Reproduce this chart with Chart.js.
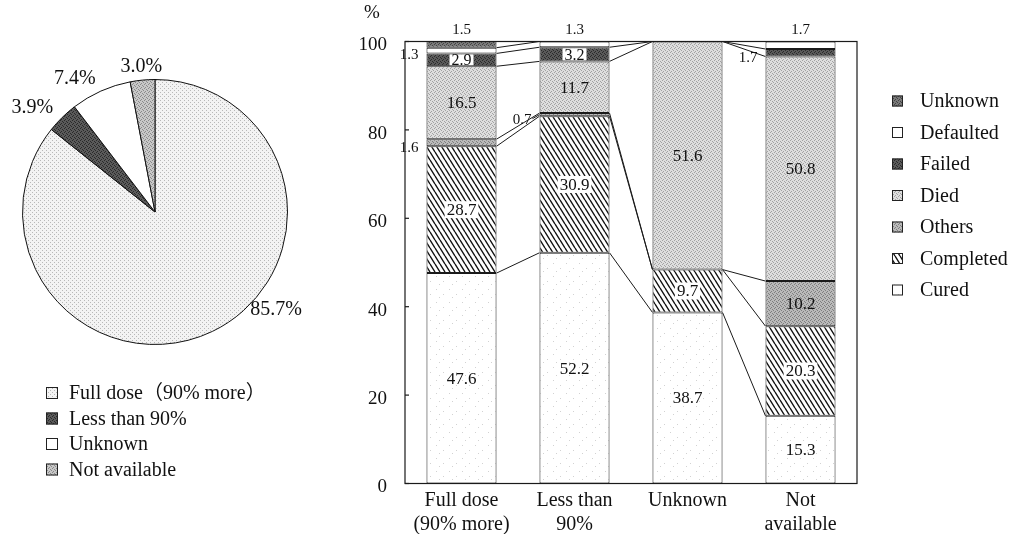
<!DOCTYPE html>
<html>
<head>
<meta charset="utf-8">
<script src="https://cdn.jsdelivr.net/npm/chart.js@4.4.0/dist/chart.umd.min.js"></script>
<style>
html, body { margin: 0; padding: 0; background: #fff; }
#wrap { position: relative; width: 1013px; height: 534px; overflow: hidden; }
#pieBox { position: absolute; left: 0; top: 0; width: 340px; height: 534px; }
#barBox { position: absolute; left: 330px; top: 0; width: 683px; height: 534px; }
</style>
</head>
<body>
<div id="wrap">
  <div id="pieBox"><canvas id="pie"></canvas></div>
  <div id="barBox"><canvas id="bars"></canvas></div>
</div>
<script>
// pie: dose taken
var pieLabels = ['Full dose\uFF0890% more\uFF09', 'Less than 90%', 'Unknown', 'Not available'];
var pieValues = [85.7, 3.9, 7.4, 3.0];

// bars: treatment outcome by dose group
var categories = [['Full dose', '(90% more)'], ['Less than', '90%'], 'Unknown', ['Not', 'available']];
var cured = [47.6, 52.2, 38.7, 15.3];
var completed = [28.7, 30.9, 9.7, 20.3];
var others = [1.6, 0.7, 0, 10.2];
var died = [16.5, 11.7, 51.6, 50.8];
var failed = [2.9, 3.2, 0, 1.7];
var defaulted = [1.3, 1.3, 0, 1.7];
var unknownOutcome = [1.5, 0, 0, 0];
var yTicks = [0, 20, 40, 60, 80, 100];

var serif = "'Liberation Serif', 'Noto Sans CJK JP', serif";
Chart.defaults.font.family = serif;
Chart.defaults.color = '#111';

// screentone-like fills
function tone(base, dot, cells, w, h) {
  var c = document.createElement('canvas');
  c.width = w || 4; c.height = h || 4;
  var g = c.getContext('2d');
  g.fillStyle = base; g.fillRect(0, 0, c.width, c.height);
  g.fillStyle = dot;
  cells.forEach(function (p) { g.fillRect(p[0], p[1], 1, 1); });
  return g.createPattern(c, 'repeat');
}
function hatch() {
  var c = document.createElement('canvas');
  c.width = 5; c.height = 8;
  var g = c.getContext('2d');
  g.fillStyle = '#fff'; g.fillRect(0, 0, 5, 8);
  g.strokeStyle = '#111'; g.lineWidth = 1.4;
  g.beginPath();
  [-5, 0, 5].forEach(function (o) { g.moveTo(o, 0); g.lineTo(o + 5, 8); });
  g.stroke();
  return g.createPattern(c, 'repeat');
}
var fourDots = [[0, 0], [2, 1], [1, 3], [3, 2]];
var fillCured = tone('#ffffff', '#d2d2d2', [[2, 3], [9, 8], [5, 11]], 13, 13);
var fillCompleted = hatch();
var fillOthers = tone('#bababa', '#7e7e7e', fourDots);
var fillDied = tone('#dedede', '#a2a2a2', fourDots);
var fillFailed = tone('#5a5a5a', '#2a2a2a', fourDots);
var fillDefaulted = '#ffffff';
var fillUnknown = tone('#7a7a7a', '#444444', fourDots);

var pieFills = [
  tone('#f3f3f3', '#b8b8b8', [[0, 0], [2, 2]]),
  tone('#5a5a5a', '#2a2a2a', fourDots),
  '#ffffff',
  tone('#c8c8c8', '#8a8a8a', fourDots)
];

// ---------- pie ----------
var pieText = {
  id: 'pieText',
  afterDatasetsDraw: function (chart) {
    var ctx = chart.ctx;
    var meta = chart.getDatasetMeta(0);
    ctx.save();
    ctx.font = '20px ' + serif;
    ctx.fillStyle = '#111';
    ctx.textBaseline = 'middle';
    meta.data.forEach(function (arc, i) {
      var p = arc.getProps(['x', 'y', 'startAngle', 'endAngle', 'outerRadius'], true);
      // the big slice carries its label low on the right rim, like the source
      var a = i === 0 ? p.startAngle + (p.endAngle - p.startAngle) * 0.44 : (p.startAngle + p.endAngle) / 2;
      var r = p.outerRadius + (i === 0 ? 4 : 13);
      var cx = Math.cos(a), sy = Math.sin(a);
      ctx.textAlign = cx > 0.3 ? 'left' : (cx < -0.3 ? 'right' : 'center');
      ctx.fillText(pieValues[i].toFixed(1) + '%', p.x + cx * r, p.y + sy * r);
    });
    ctx.restore();
  }
};
var pieLegend = {
  id: 'pieLegend',
  afterDraw: function (chart) {
    var ctx = chart.ctx, area = chart.chartArea;
    var fills = chart.data.datasets[0].backgroundColor;
    ctx.save();
    ctx.font = '20px ' + serif;
    ctx.textBaseline = 'middle';
    ctx.textAlign = 'left';
    ctx.strokeStyle = '#222';
    ctx.lineWidth = 1;
    chart.data.labels.forEach(function (t, i) {
      var y = area.bottom + 48 + i * 25.5;
      ctx.fillStyle = fills[i];
      ctx.fillRect(area.left + 24, y - 6, 12, 12);
      ctx.strokeRect(area.left + 24.5, y - 5.5, 11, 11);
      ctx.fillStyle = '#111';
      ctx.fillText(t, area.left + 47, y + 1);
    });
    ctx.restore();
  }
};

new Chart(document.getElementById('pie'), {
  type: 'pie',
  data: {
    labels: pieLabels,
    datasets: [{ data: pieValues, backgroundColor: pieFills, borderColor: '#111', borderWidth: 1 }]
  },
  options: {
    animation: false,
    responsive: true,
    maintainAspectRatio: false,
    layout: { padding: { left: 22, top: 79, right: 52, bottom: 189 } },
    plugins: { legend: { display: false }, tooltip: { enabled: false } }
  },
  plugins: [pieText, pieLegend]
});

// ---------- stacked bars ----------
var frame = {
  id: 'frame',
  afterDraw: function (chart) {
    var ctx = chart.ctx, a = chart.chartArea, y = chart.scales.y;
    ctx.save();
    ctx.strokeStyle = '#1a1a1a';
    ctx.lineWidth = 1.2;
    ctx.strokeRect(a.left, a.top, a.right - a.left, a.bottom - a.top);
    yTicks.forEach(function (v) {
      var py = y.getPixelForValue(v);
      ctx.beginPath(); ctx.moveTo(a.left, py); ctx.lineTo(a.left + 4, py); ctx.stroke();
    });
    ctx.font = '19px ' + serif;
    ctx.fillStyle = '#111';
    ctx.textAlign = 'center';
    ctx.textBaseline = 'middle';
    ctx.fillText('%', a.left - 33, 13);
    ctx.restore();
  }
};

var connectors = {
  id: 'connectors',
  afterDatasetsDraw: function (chart) {
    var ctx = chart.ctx, y = chart.scales.y;
    var sets = chart.data.datasets;
    var first = chart.getDatasetMeta(0).data;
    ctx.save();
    ctx.strokeStyle = '#1a1a1a';
    ctx.lineWidth = 1;
    for (var c = 0; c < first.length - 1; c++) {
      var A = first[c].getProps(['x', 'width'], true);
      var B = first[c + 1].getProps(['x', 'width'], true);
      var xa = A.x + A.width / 2, xb = B.x - B.width / 2;
      var sa = 0, sb = 0;
      sets.forEach(function (ds) {
        sa += ds.data[c]; sb += ds.data[c + 1];
        ctx.beginPath();
        ctx.moveTo(xa, y.getPixelForValue(Math.min(sa, 100)));
        ctx.lineTo(xb, y.getPixelForValue(Math.min(sb, 100)));
        ctx.stroke();
      });
    }
    ctx.restore();
  }
};

var barLabels = {
  id: 'barLabels',
  afterDatasetsDraw: function (chart) {
    var ctx = chart.ctx, area = chart.chartArea;
    var sets = chart.data.datasets;
    ctx.save();
    chart.data.labels.forEach(function (lab, c) {
      var top = -1;
      sets.forEach(function (ds, i) { if (ds.data[c] > 0) top = i; });
      sets.forEach(function (ds, i) {
        var v = ds.data[c];
        if (!v) return;
        var p = chart.getDatasetMeta(i).data[c].getProps(['x', 'y', 'base', 'width'], true);
        var mid = (p.y + p.base) / 2;
        var txt = v.toFixed(1);
        ctx.fillStyle = '#111';
        if (v >= 2.5) {
          ctx.font = (v < 5 ? 16 : 17) + 'px ' + serif;
          ctx.textAlign = 'center';
          ctx.textBaseline = 'middle';
          if (ds.labelBox) {
            var w = ctx.measureText(txt).width + 4;
            var h = Math.min(17, Math.abs(p.base - p.y) - 2);
            ctx.fillStyle = '#fff';
            ctx.fillRect(p.x - w / 2, mid - h / 2, w, h);
            ctx.fillStyle = '#111';
          }
          ctx.fillText(txt, p.x, mid + 1);
        } else if (i === top) {
          ctx.font = '15px ' + serif;
          ctx.textAlign = 'center';
          ctx.textBaseline = 'middle';
          ctx.fillText(txt, p.x, area.top - 11);
        } else {
          ctx.font = '15px ' + serif;
          ctx.textAlign = 'right';
          ctx.textBaseline = 'middle';
          var left = p.x - p.width / 2;
          ctx.fillText(txt, left - 8, mid + 5);
          if (v < 1) {
            ctx.strokeStyle = '#1a1a1a';
            ctx.lineWidth = 1;
            ctx.beginPath(); ctx.moveTo(left - 7, mid + 4); ctx.lineTo(left, mid); ctx.stroke();
          }
        }
      });
    });
    ctx.restore();
  }
};

var barLegend = {
  id: 'barLegend',
  afterDraw: function (chart) {
    var ctx = chart.ctx, a = chart.chartArea;
    var sets = chart.data.datasets.slice().reverse();
    ctx.save();
    ctx.font = '20px ' + serif;
    ctx.textAlign = 'left';
    ctx.textBaseline = 'middle';
    ctx.strokeStyle = '#222';
    ctx.lineWidth = 1;
    sets.forEach(function (ds, i) {
      var y = a.top + 59.5 + i * 31.5;
      ctx.fillStyle = ds.backgroundColor;
      ctx.fillRect(a.right + 35, y - 5.5, 11, 11);
      ctx.strokeRect(a.right + 35.5, y - 5, 10, 10);
      ctx.fillStyle = '#111';
      ctx.fillText(ds.label, a.right + 63, y + 1);
    });
    ctx.restore();
  }
};

var barSets = [
  { label: 'Cured', data: cured, backgroundColor: fillCured },
  { label: 'Completed', data: completed, backgroundColor: fillCompleted, labelBox: true },
  { label: 'Others', data: others, backgroundColor: fillOthers },
  { label: 'Died', data: died, backgroundColor: fillDied },
  { label: 'Failed', data: failed, backgroundColor: fillFailed, labelBox: true },
  { label: 'Defaulted', data: defaulted, backgroundColor: fillDefaulted },
  { label: 'Unknown', data: unknownOutcome, backgroundColor: fillUnknown }
].map(function (d) {
  return Object.assign({
    borderColor: '#1a1a1a',
    borderWidth: 1,
    borderSkipped: false,
    barPercentage: 0.62,
    categoryPercentage: 1
  }, d);
});

new Chart(document.getElementById('bars'), {
  type: 'bar',
  data: { labels: categories, datasets: barSets },
  options: {
    animation: false,
    responsive: true,
    maintainAspectRatio: false,
    layout: { padding: { left: 0, top: 41.5, right: 156, bottom: 0 } },
    scales: {
      x: {
        stacked: true,
        grid: { display: false, drawTicks: false },
        border: { display: false },
        ticks: { color: '#111', font: { size: 20 }, padding: 5, maxRotation: 0, autoSkip: false },
        afterFit: function (s) { s.height = 50.5; }
      },
      y: {
        stacked: true,
        min: yTicks[0],
        max: yTicks[yTicks.length - 1],
        grid: { display: false, drawTicks: false },
        border: { display: false },
        ticks: { stepSize: 20, color: '#111', font: { size: 19 }, padding: 18, labelOffset: 4 },
        afterFit: function (s) { s.width = 75; }
      }
    },
    plugins: { legend: { display: false }, tooltip: { enabled: false } }
  },
  plugins: [frame, connectors, barLabels, barLegend]
});
</script>
</body>
</html>
